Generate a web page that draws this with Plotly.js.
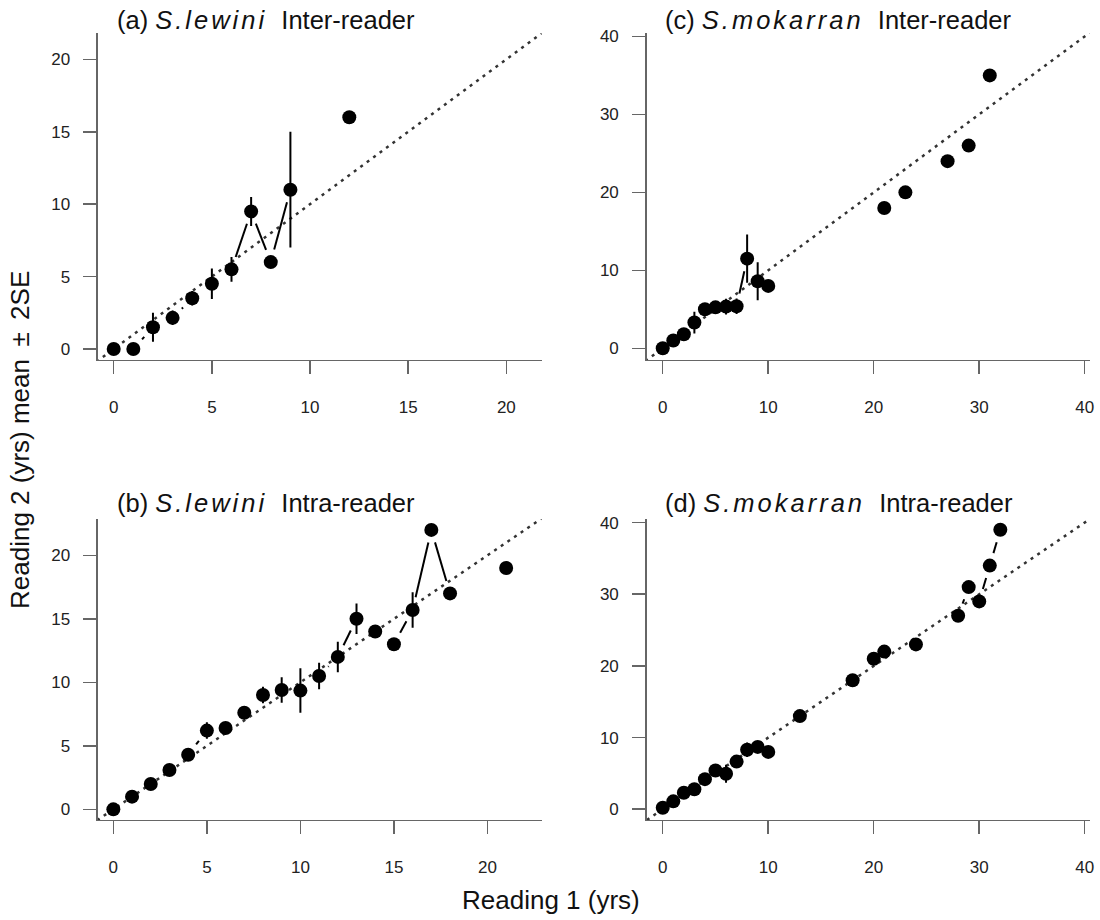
<!DOCTYPE html>
<html>
<head>
<meta charset="utf-8">
<script src="https://cdn.plot.ly/plotly-3.0.1.min.js"></script>
<style>html,body{margin:0;padding:0;background:#fff;}#chart{width:1100px;height:920px;}</style>
</head>
<body>
<div id="chart"></div>
<script>
// ---- Data (Reading 1 age, Reading 2 mean, 2SE) ----
const aX = [0, 1, 2, 3, 4, 5, 6, 7, 8, 9, 12];
const aY = [0, 0, 1.5, 2.15, 3.5, 4.5, 5.5, 9.5, 6, 11, 16];
const aE = [0, 0, 1, 0.5, 0.5, 1.05, 0.85, 1, 0, 4, 0];

const bX = [0, 1, 2, 3, 4, 5, 6, 7, 8, 9, 10, 11, 12, 13, 14, 15, 16, 17, 18, 21];
const bY = [0, 1, 2, 3.1, 4.3, 6.2, 6.4, 7.6, 9, 9.4, 9.35, 10.5, 12, 15, 14, 13, 15.7, 22, 17, 19];
const bE = [0, 0, 0, 0, 0, 0.65, 0, 0, 0.65, 1, 1.75, 1.05, 1.2, 1.2, 0, 0, 1.4, 0, 0, 0];

const cX = [0, 1, 2, 3, 4, 5, 6, 7, 8, 9, 10, 21, 23, 27, 29, 31];
const cY = [0, 1, 1.8, 3.3, 5, 5.25, 5.35, 5.4, 11.5, 8.6, 8, 18, 20, 24, 26, 35];
const cE = [0, 0, 0, 1.4, 0, 0, 1, 1, 3.1, 2.45, 0, 0, 0, 0, 0, 0];

const dX = [0, 1, 2, 3, 4, 5, 6, 7, 8, 9, 10, 13, 18, 20, 21, 24, 28, 29, 30, 31, 32];
const dY = [0.2, 1.1, 2.3, 2.8, 4.2, 5.4, 4.95, 6.65, 8.3, 8.7, 8, 13, 18, 21, 22, 23, 27, 31, 29, 34, 39];
const dE = [0, 0, 0, 0, 0, 0, 1.25, 0, 1.0, 0, 0, 0, 0, 0, 0, 0, 0, 0, 0, 0, 0];

const ticksSmall = [0, 5, 10, 15, 20];
const ticksLarge = [0, 10, 20, 30, 40];

const titles = [
  '(a) <span style="font-style:italic;letter-spacing:3px">S.lewini</span>\u00a0\u00a0Inter-reader',
  '(b) <span style="font-style:italic;letter-spacing:3px">S.lewini</span>\u00a0\u00a0Intra-reader',
  '(c) <span style="font-style:italic;letter-spacing:3px">S.mokarran</span>\u00a0\u00a0Inter-reader',
  '(d) <span style="font-style:italic;letter-spacing:3px">S.mokarran</span>\u00a0\u00a0Intra-reader'
];
const xTitle = 'Reading 1 (yrs)';
const yTitle = 'Reading 2 (yrs) mean \u2009\u00b1\u2009 2SE';

// ---- Layout geometry ----
const W = 1100, H = 920;
const FONT = 'Liberation Sans, Arial, Helvetica, sans-serif';
const panels = [
  {key: '', xs: aX, ys: aY, es: aE, xr: [-0.8, 21.8], yr: [-0.76, 21.8], xd: [0.08909, 0.49245], yd: [0.6087, 0.9638], tk: ticksSmall},
  {key: '2', xs: bX, ys: bY, es: bE, xr: [-0.82, 22.9], yr: [-0.84, 22.86], xd: [0.08909, 0.49245], yd: [0.1087, 0.43587], tk: ticksSmall},
  {key: '3', xs: cX, ys: cY, es: cE, xr: [-1.52, 40.5], yr: [-1.5, 40.4], xd: [0.58791, 0.99091], yd: [0.6087, 0.9638], tk: ticksLarge},
  {key: '4', xs: dX, ys: dY, es: dE, xr: [-1.52, 40.5], yr: [-1.5, 40.5], xd: [0.58791, 0.99091], yd: [0.1087, 0.43587], tk: ticksLarge}
];

// connecting line as in R type="b": consecutive ages joined, with a gap around each point
function connectors(p) {
  const kx = (p.xd[1] - p.xd[0]) * W / (p.xr[1] - p.xr[0]);
  const ky = (p.yd[1] - p.yd[0]) * H / (p.yr[1] - p.yr[0]);
  const GAP = 13;
  const ox = [], oy = [];
  for (let i = 0; i < p.xs.length - 1; i++) {
    if (p.xs[i + 1] - p.xs[i] !== 1) continue;
    const dx = p.xs[i + 1] - p.xs[i], dy = p.ys[i + 1] - p.ys[i];
    const L = Math.hypot(dx * kx, dy * ky);
    if (L <= 2 * GAP) continue;
    const f = GAP / L;
    ox.push(p.xs[i] + dx * f, p.xs[i + 1] - dx * f, null);
    oy.push(p.ys[i] + dy * f, p.ys[i + 1] - dy * f, null);
  }
  return {x: ox, y: oy};
}

const traces = [];
const layout = {
  width: W, height: H,
  margin: {l: 0, r: 0, t: 0, b: 0},
  paper_bgcolor: '#fff', plot_bgcolor: '#fff',
  showlegend: false,
  font: {family: FONT, color: '#222', size: 17},
  annotations: []
};

panels.forEach((p, idx) => {
  const xa = 'x' + p.key, ya = 'y' + p.key;
  // 1:1 reference line across the plot region
  traces.push({
    x: [p.xr[0] - 5, p.xr[1] + 5], y: [p.xr[0] - 5, p.xr[1] + 5],
    xaxis: xa, yaxis: ya, mode: 'lines', hoverinfo: 'skip',
    line: {color: '#333', width: 2.5, dash: '3px,5px'}
  });
  const c = connectors(p);
  traces.push({
    x: c.x, y: c.y, xaxis: xa, yaxis: ya, mode: 'lines', connectgaps: false,
    hoverinfo: 'skip', line: {color: '#000', width: 2}
  });
  traces.push({
    x: p.xs, y: p.ys, xaxis: xa, yaxis: ya, mode: 'markers',
    marker: {color: '#000', size: 14, line: {width: 0}},
    error_y: {type: 'data', array: p.es, visible: true, color: '#000', thickness: 2, width: 0}
  });
  const axBase = {
    showgrid: false, zeroline: false, showline: true, linecolor: '#666', linewidth: 1.5,
    ticks: 'outside', ticklen: 13, tickwidth: 1.5, tickcolor: '#666',
    tickfont: {family: FONT, size: 17, color: '#222'}, automargin: false, fixedrange: true
  };
  layout['xaxis' + p.key] = Object.assign({}, axBase, {
    domain: p.xd, range: p.xr, tickvals: p.tk, ticktext: p.tk.map(String),
    anchor: ya, ticklabelstandoff: 18
  });
  layout['yaxis' + p.key] = Object.assign({}, axBase, {
    domain: p.yd, range: p.yr, tickvals: p.tk, ticktext: p.tk.map(String),
    anchor: xa, ticklabelstandoff: 10
  });
  const tx = p.xd[0] < 0.5 ? 115 / W : 663 / W;
  const ty = p.yd[1] > 0.5 ? 1 - 19.5 / H : 1 - 503 / H;
  layout.annotations.push({
    text: titles[idx], xref: 'paper', yref: 'paper', x: tx, y: ty,
    xanchor: 'left', yanchor: 'middle', showarrow: false,
    font: {family: FONT, size: 25.5, color: '#111'}
  });
});

layout.annotations.push({
  text: xTitle, xref: 'paper', yref: 'paper', x: 551 / W, y: 1 - 900 / H,
  xanchor: 'center', yanchor: 'middle', showarrow: false,
  font: {family: FONT, size: 26, color: '#111'}
});
layout.annotations.push({
  text: yTitle, xref: 'paper', yref: 'paper', x: 20 / W, y: 1 - 440 / H,
  xanchor: 'center', yanchor: 'middle', showarrow: false, textangle: -90,
  font: {family: FONT, size: 26, color: '#111'}
});

Plotly.newPlot('chart', traces, layout, {displayModeBar: false, staticPlot: true});
</script>
</body>
</html>
